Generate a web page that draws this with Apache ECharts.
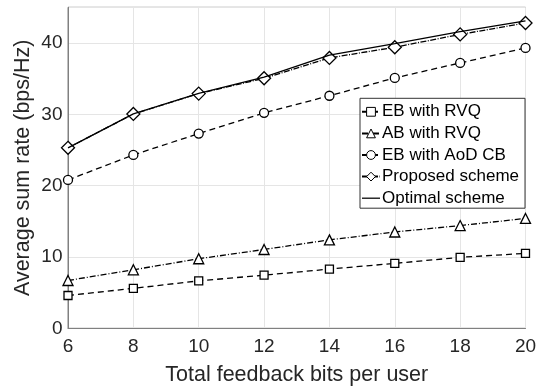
<!DOCTYPE html>
<html><head><meta charset="utf-8">
<script src="https://cdn.jsdelivr.net/npm/echarts@6/dist/echarts.min.js"></script>
<style>html,body{margin:0;padding:0;background:#fff}#c{width:547px;height:386px}</style>
</head><body><div id="c"></div>
<script>
const xValues = [6, 8, 10, 12, 14, 16, 18, 20];
const ebRvq = [4.6, 5.6, 6.65, 7.45, 8.3, 9.1, 9.95, 10.5];
const abRvq = [6.7, 8.2, 9.75, 11.05, 12.4, 13.5, 14.4, 15.4];
const ebAod = [20.8, 24.3, 27.3, 30.2, 32.6, 35.1, 37.2, 39.3];
const proposed = [25.3, 30.05, 32.9, 35.05, 37.9, 39.4, 41.2, 42.8];
const optimal = [25.3, 30.05, 32.95, 35.2, 38.3, 39.9, 41.6, 43.1];
const names = ['EB with RVQ', 'AB with RVQ', 'EB with AoD CB', 'Proposed scheme', 'Optimal scheme'];

const font = 'Liberation Sans, Arial, sans-serif';
function pairs(arr){ return xValues.map((x,i)=>[x, arr[i]]); }
function mk(name, data, symbol, size, dash, z){
  return {
    name, type:'line', data: pairs(data), symbol, symbolSize: size,
    showSymbol: symbol !== 'none',
    lineStyle:{color:'#000', width:1.3, type: dash},
    itemStyle:{color:'#fff', borderColor:'#000', borderWidth:1.3},
    z: z, animation:false
  };
}
const chart = echarts.init(document.getElementById('c'), null, {renderer:'canvas'});
chart.setOption({
  animation:false,
  backgroundColor:'#fff',
  grid:{left:68, right:21.5, top:7.3, bottom:57.7, containLabel:false, outerBoundsMode:'none',
        show:true, borderColor:'#808080', borderWidth:1, backgroundColor:'transparent'},
  xAxis:{
    type:'value', min:6, max:20, interval:2,
    name:'Total feedback bits per user', nameLocation:'middle', nameGap:36, nameMoveOverlap:false,
    nameTextStyle:{fontFamily:font, fontSize:21.5, color:'#262626'},
    axisLine:{show:true, onZero:false, lineStyle:{color:'#808080', width:1}},
    axisTick:{show:false},
    axisLabel:{fontFamily:font, fontSize:19, color:'#262626', margin:9},
    splitLine:{show:true, lineStyle:{color:'#e5e5e5', width:1}}
  },
  yAxis:{
    type:'value', min:0, max:45, interval:10,
    name:'Average sum rate (bps/Hz)', nameLocation:'middle', nameGap:34, nameMoveOverlap:false,
    nameTextStyle:{fontFamily:font, fontSize:21.5, color:'#262626'},
    axisLine:{show:true, lineStyle:{color:'#808080', width:1}},
    axisTick:{show:false},
    axisLabel:{fontFamily:font, fontSize:19, color:'#262626', margin:5.5, showMaxLabel:false},
    splitLine:{show:true, lineStyle:{color:'#e5e5e5', width:1}}
  },
  legend:{
    orient:'vertical', left:360, top:98.3,
    data: names.slice(0,4).concat([{name:names[4], icon:'path://M0,0H20V1.4H0Z', itemStyle:{color:'#000', borderWidth:0}}]),
    itemWidth:18, itemHeight:11, itemGap:4.6,
    symbolKeepAspect:true,
    itemStyle:{borderWidth:1},
    backgroundColor:'#fff', borderColor:'#333', borderWidth:1,
    padding:[5,6,1.5,1],
    textStyle:{fontFamily:font, fontSize:17, color:'#000', padding:[0,0,0,-3]}
  },
  series:[
    mk(names[0], ebRvq, 'rect', 8, [6,4], 2),
    mk(names[1], abRvq, 'triangle', 10, [6,2,1,2], 2),
    mk(names[2], ebAod, 'circle', 9, [6,4], 2),
    mk(names[3], proposed, 'diamond', 13, [6,1.5,1,1.5], 3),
    mk(names[4], optimal, 'none', 0, 'solid', 4)
  ]
});
</script></body></html>
